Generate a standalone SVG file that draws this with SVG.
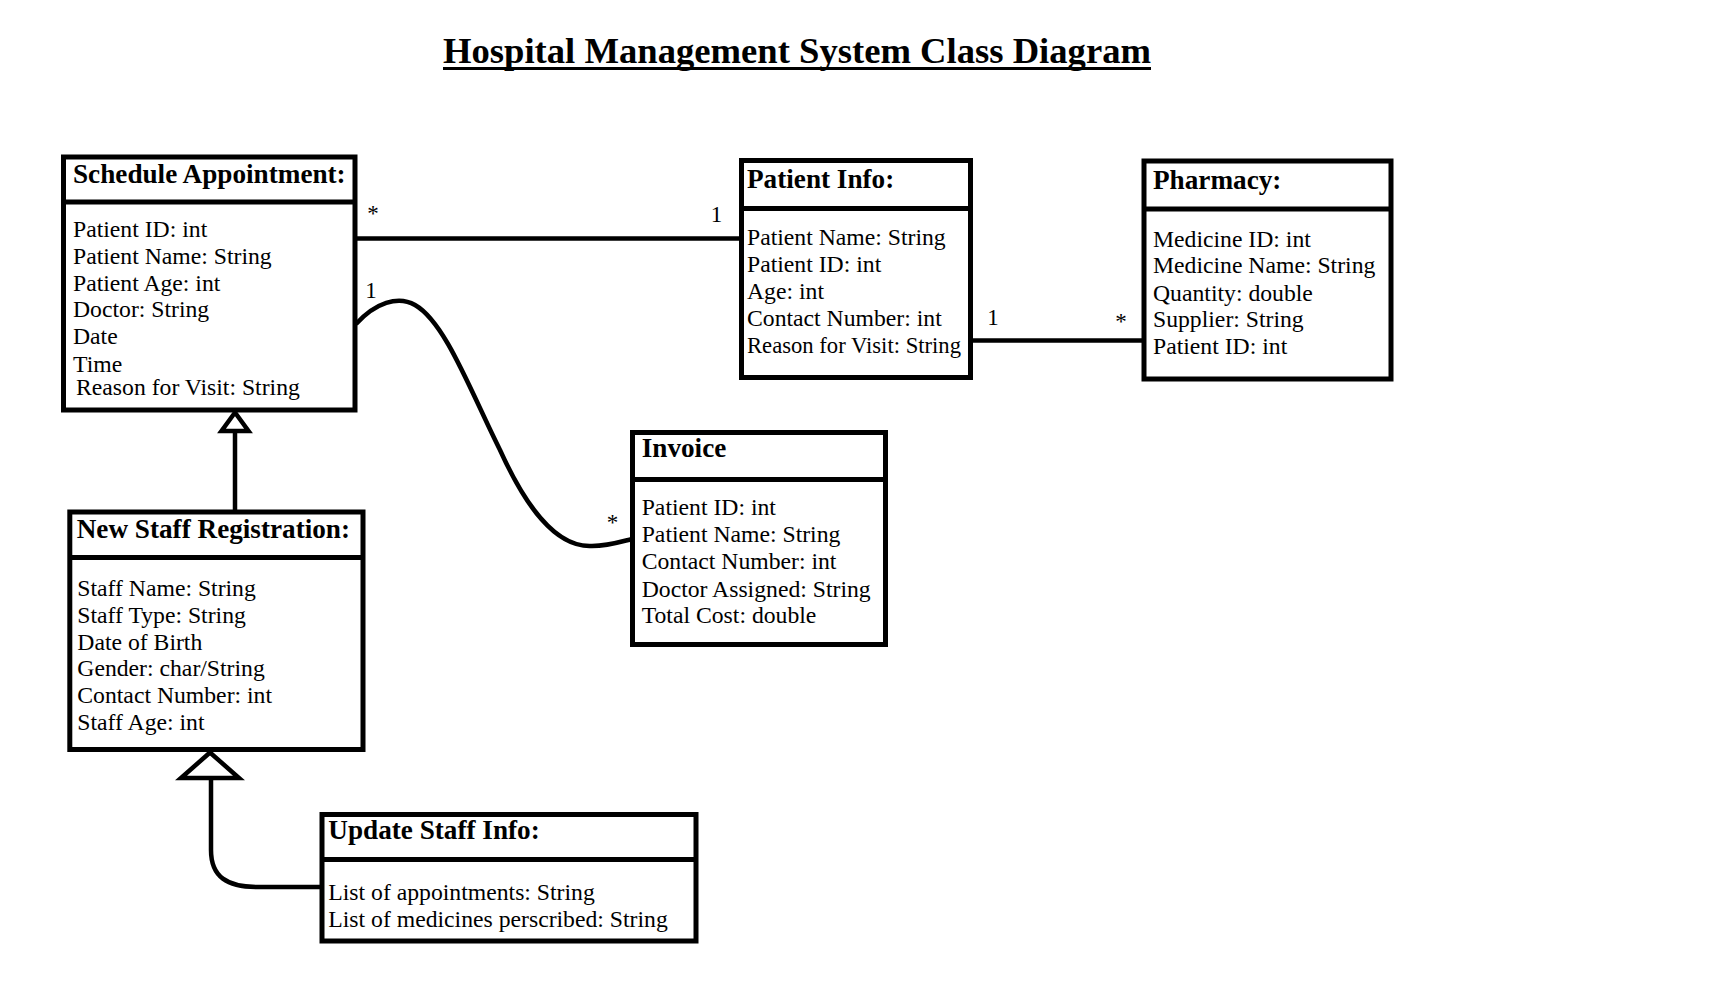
<svg xmlns="http://www.w3.org/2000/svg" width="1736" height="990" viewBox="0 0 1736 990">
<style>
.box{fill:#fff;stroke:#000;stroke-width:5}
.div{stroke:#000;stroke-width:5}
.hd{font-family:"Liberation Serif","Times New Roman",serif;font-weight:bold;font-size:27.2px;fill:#000}
.at{font-family:"Liberation Serif","Times New Roman",serif;font-size:23.7px;fill:#000}
.lb{font-family:"Liberation Serif","Times New Roman",serif;font-size:23px;fill:#000;text-anchor:middle}
.ln{fill:none;stroke:#000;stroke-width:4.5}
.tri{fill:#fff;stroke:#000;stroke-width:4.5;stroke-linejoin:miter}
</style>
<rect width="1736" height="990" fill="#fff"/>
<g id="title">
<text x="443" y="63" font-family="Liberation Serif, Times New Roman, serif" font-weight="bold" font-size="35px" textLength="708" lengthAdjust="spacingAndGlyphs">Hospital Management System Class Diagram</text>
<line x1="443" y1="68.5" x2="1151" y2="68.5" stroke="#000" stroke-width="3"/>
</g>
<g id="connectors">
<line class="ln" x1="357" y1="238.5" x2="740" y2="238.5"/>
<line class="ln" x1="973" y1="340.5" x2="1142" y2="340.5"/>
<path class="ln" d="M356,324 C375,303 398,295 415,305 C445,322 470,390 500,450 C525,505 555,548 592,546 C608,546 620,542 632,539"/>
<line class="ln" x1="235" y1="430" x2="235" y2="510"/>
<polygon class="tri" points="235,412.5 221.5,431 248.5,431"/>
<path class="ln" d="M211,778 L211,850 C211,877 227,887 258,887 L320,887"/>
<polygon class="tri" points="210,752.5 181,778 239,778"/>
<text class="lb" x="373" y="221">*</text>
<text class="lb" x="716.5" y="222">1</text>
<text class="lb" x="371" y="298">1</text>
<text class="lb" x="993" y="325">1</text>
<text class="lb" x="1121" y="329">*</text>
<text class="lb" x="612.5" y="530">*</text>
</g>
<g id="schedule-appointment">
<rect class="box" x="63.5" y="157" width="291.5" height="253"/>
<line class="div" x1="63.5" y1="202" x2="355" y2="202"/>
<text class="hd" x="73" y="183">Schedule Appointment:</text>
<text class="at" x="73" y="237">Patient ID: int</text>
<text class="at" x="73" y="264">Patient Name: String</text>
<text class="at" x="73" y="291">Patient Age: int</text>
<text class="at" x="73" y="317">Doctor: String</text>
<text class="at" x="73" y="344">Date</text>
<text class="at" x="73" y="372">Time</text>
<text class="at" x="76" y="395">Reason for Visit: String</text>
</g>
<g id="patient-info">
<rect class="box" x="741.5" y="160.5" width="229" height="217"/>
<line class="div" x1="741.5" y1="208.5" x2="970.5" y2="208.5"/>
<text class="hd" x="747" y="188">Patient Info:</text>
<text class="at" x="747" y="245">Patient Name: String</text>
<text class="at" x="747" y="272.3">Patient ID: int</text>
<text class="at" x="747" y="299.3">Age: int</text>
<text class="at" x="747" y="326">Contact Number: int</text>
<text class="at" x="747" y="353.3" textLength="214" lengthAdjust="spacingAndGlyphs">Reason for Visit: String</text>
</g>
<g id="pharmacy">
<rect class="box" x="1144" y="161" width="247" height="218"/>
<line class="div" x1="1144" y1="209" x2="1391" y2="209"/>
<text class="hd" x="1153" y="189">Pharmacy:</text>
<text class="at" x="1153" y="246.7">Medicine ID: int</text>
<text class="at" x="1153" y="273.3">Medicine Name: String</text>
<text class="at" x="1153" y="300.7">Quantity: double</text>
<text class="at" x="1153" y="327.3">Supplier: String</text>
<text class="at" x="1153" y="354.3">Patient ID: int</text>
</g>
<g id="invoice">
<rect class="box" x="632.5" y="432.5" width="253" height="212"/>
<line class="div" x1="632.5" y1="479.5" x2="885.5" y2="479.5"/>
<text class="hd" x="641.7" y="456.7">Invoice</text>
<text class="at" x="641.7" y="515">Patient ID: int</text>
<text class="at" x="641.7" y="541.7">Patient Name: String</text>
<text class="at" x="641.7" y="569.3">Contact Number: int</text>
<text class="at" x="641.7" y="596.7">Doctor Assigned: String</text>
<text class="at" x="641.7" y="623.3">Total Cost: double</text>
</g>
<g id="new-staff-registration">
<rect class="box" x="69.8" y="512" width="293.2" height="237.5"/>
<line class="div" x1="69.8" y1="557.5" x2="363" y2="557.5"/>
<text class="hd" x="76.7" y="538.3">New Staff Registration:</text>
<text class="at" x="77.3" y="596">Staff Name: String</text>
<text class="at" x="77.3" y="622.7">Staff Type: String</text>
<text class="at" x="77.3" y="650">Date of Birth</text>
<text class="at" x="77.3" y="676">Gender: char/String</text>
<text class="at" x="77.3" y="703.3">Contact Number: int</text>
<text class="at" x="77.3" y="730">Staff Age: int</text>
</g>
<g id="update-staff-info">
<rect class="box" x="322" y="814.5" width="374" height="126.5"/>
<line class="div" x1="322" y1="859.5" x2="696" y2="859.5"/>
<text class="hd" x="328.3" y="839.3">Update Staff Info:</text>
<text class="at" x="328.3" y="900">List of appointments: String</text>
<text class="at" x="328.3" y="927.3">List of medicines perscribed: String</text>
</g>
</svg>
